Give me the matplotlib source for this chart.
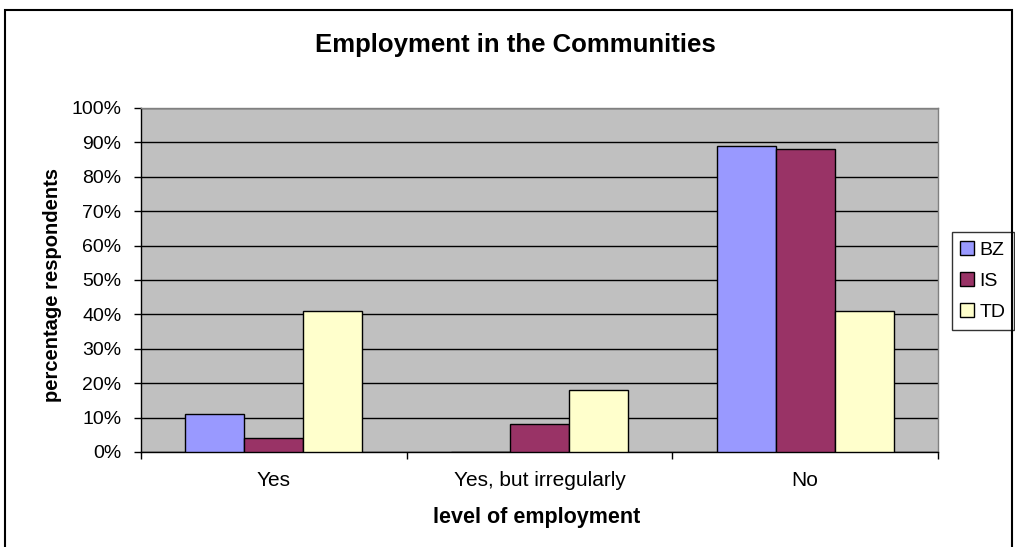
import numpy as np
import matplotlib
matplotlib.use('Agg')
import matplotlib.pyplot as plt
from matplotlib.patches import Rectangle
from matplotlib.ticker import FuncFormatter, FixedLocator

# ── data ─────────────────────────────────────────────
categories = ["Yes", "Yes, but irregularly", "No"]
series = ["BZ", "IS", "TD"]
bz = [11, 0, 89]
is_ = [4, 8, 88]
td = [41, 18, 41]
y_ticks = list(range(0, 101, 10))

colors = ["#9999FF", "#993366", "#FFFFCC"]
plt.rcParams['font.family'] = ['Liberation Sans', 'DejaVu Sans']

fig = plt.figure(figsize=(10.15, 5.47), dpi=100)
fig.patch.set_facecolor('white')

# outer chart frame
fig.patches.append(Rectangle((5 / 1015, -0.02), 1007 / 1015, 1 - 10 / 547 + 0.02,
                             transform=fig.transFigure, fill=False,
                             edgecolor='black', lw=1.5, zorder=0))

ax = fig.add_axes([141 / 1015, 1 - 452 / 547, 797 / 1015, 344 / 547])
ax.set_facecolor('#C0C0C0')

x = np.arange(len(categories))
w = 1 / 4.5
for i, (name, vals) in enumerate(zip(series, [bz, is_, td])):
    ax.bar(x + (i - 1) * w, vals, w, color=colors[i], edgecolor='black',
           lw=1, label=name, zorder=3)

ax.set_xlim(-0.5, 2.5)
ax.set_ylim(0, 100)
ax.yaxis.set_major_locator(FixedLocator(y_ticks))
ax.yaxis.set_major_formatter(FuncFormatter(lambda v, _: f"{int(v)}%"))
ax.grid(axis='y', color='black', lw=1, zorder=1)
ax.set_axisbelow(True)

ax.set_xticks(x)
ax.set_xticklabels(categories, fontsize=15)
ax.set_xticks(np.arange(-0.5, 3, 1), minor=True)
ax.tick_params(axis='x', which='major', length=0, pad=14)
ax.tick_params(axis='x', which='minor', length=5, width=1, direction='out')
ax.tick_params(axis='y', length=5, width=1, direction='out', pad=9, labelsize=14)

for side in ['top', 'right']:
    ax.spines[side].set_color('#808080')
for side in ['left', 'bottom']:
    ax.spines[side].set_color('black')
for s in ax.spines.values():
    s.set_linewidth(1)

fig.text(515 / 1015, 1 - 45 / 547, "Employment in the Communities",
         ha='center', va='center', fontsize=18.5, fontweight='bold')
fig.text(537 / 1015, 1 - 518 / 547, "level of employment",
         ha='center', va='center', fontsize=15.5, fontweight='bold')
fig.text(53 / 1015, 1 - 285 / 547, "percentage respondents", rotation=90,
         ha='center', va='center', fontsize=14.5, fontweight='bold')

leg = ax.legend(loc='center', bbox_to_anchor=(983 / 1015, 1 - 281 / 547),
                bbox_transform=fig.transFigure, fontsize=14, frameon=True,
                fancybox=False, handlelength=0.7, handleheight=0.7,
                handletextpad=0.3, labelspacing=0.7, borderpad=0.45,
                borderaxespad=0)
leg.get_frame().set_edgecolor('black')
leg.get_frame().set_linewidth(1)

plt.savefig('out.png', dpi=100, facecolor='white')
